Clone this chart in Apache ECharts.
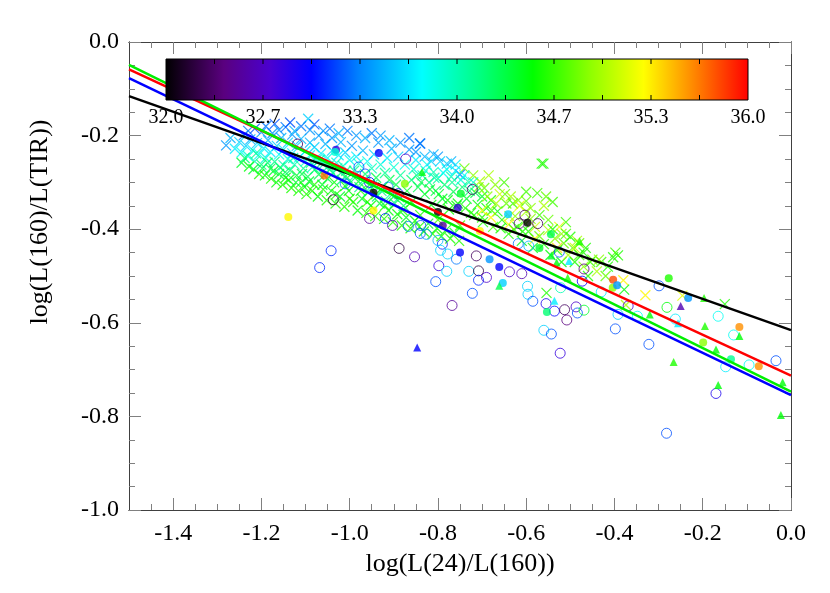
<!DOCTYPE html>
<html><head><meta charset="utf-8">
<script src="https://cdn.jsdelivr.net/npm/echarts@6/dist/echarts.min.js"></script>
<style>html,body{margin:0;padding:0;background:#fff}#c{width:830px;height:593px}</style>
</head><body><div id="c"></div>
<script>
// ---- axis ticks ----
const xTicks = [-1.4,-1.2,-1.0,-0.8,-0.6,-0.4,-0.2,0.0];
const xMinorTicks = [-1.45,-1.35,-1.3,-1.25,-1.15,-1.1,-1.05,-0.95,-0.9,-0.85,-0.75,-0.7,-0.65,-0.55,-0.5,-0.45,-0.35,-0.3,-0.25,-0.15,-0.1,-0.05];
const yTicks = [0.0,-0.2,-0.4,-0.6,-0.8,-1.0];
const yMinorTicks = [-0.05,-0.1,-0.15,-0.25,-0.3,-0.35,-0.45,-0.5,-0.55,-0.65,-0.7,-0.75,-0.85,-0.9,-0.95];
const colorbarLabels = ['32.0','32.7','33.3','34.0','34.7','35.3','36.0'];
const colorMin = 32, colorMax = 36;
const xTitle = 'log(L(24)/L(160))';
const yTitle = 'log(L(160)/L(TIR))';

// ---- data: [x, y, colour value] ----
const crosses = [
[-1.28,-0.221,33.4],[-1.27,-0.205,33.5],[-1.26,-0.228,33.7],[-1.25,-0.214,33.6],[-1.245,-0.236,33.8],[-1.24,-0.199,33.3],[-1.235,-0.222,33.6],[-1.23,-0.244,33.9],[-1.225,-0.208,33.5],[-1.22,-0.231,33.7],[-1.215,-0.255,34.0],[-1.21,-0.216,33.6],[-1.205,-0.240,33.8],[-1.20,-0.193,33.4],[-1.20,-0.262,34.2],[-1.195,-0.227,33.7],
[-1.19,-0.248,33.9],[-1.185,-0.210,33.5],[-1.18,-0.271,34.3],[-1.18,-0.235,33.7],[-1.175,-0.195,33.4],[-1.17,-0.256,34.1],[-1.165,-0.222,33.6],[-1.16,-0.282,34.4],[-1.16,-0.240,33.8],[-1.155,-0.205,33.5],[-1.15,-0.263,34.0],[-1.15,-0.230,33.7],[-1.145,-0.290,34.5],[-1.14,-0.215,33.6],[-1.14,-0.250,33.9],[-1.135,-0.274,34.2],[-1.13,-0.198,33.4],[-1.13,-0.238,33.7],[-1.125,-0.262,34.0],[-1.12,-0.285,34.4],[-1.12,-0.222,33.6],[-1.115,-0.247,33.8],[-1.11,-0.300,34.5],[-1.11,-0.207,33.5],[-1.105,-0.270,34.1],[-1.10,-0.233,33.7],[-1.10,-0.255,33.9],[-1.094,-0.164,33.6],[-1.095,-0.288,34.3],
[-1.09,-0.215,33.5],[-1.09,-0.242,33.8],[-1.085,-0.268,34.0],[-1.08,-0.305,34.6],[-1.08,-0.225,33.6],[-1.075,-0.252,33.9],[-1.07,-0.283,34.3],[-1.07,-0.200,33.4],[-1.065,-0.238,33.7],[-1.06,-0.262,34.0],[-1.06,-0.315,34.6],[-1.055,-0.218,33.5],[-1.05,-0.292,34.4],[-1.05,-0.248,33.8],[-1.045,-0.272,34.1],[-1.04,-0.205,33.4],[-1.04,-0.232,33.6],[-1.035,-0.300,34.5],[-1.03,-0.258,33.9],[-1.03,-0.325,34.6],[-1.025,-0.242,33.7],[-1.02,-0.280,34.2],[-1.02,-0.214,33.5],[-1.015,-0.265,34.0],[-1.01,-0.308,34.5],[-1.01,-0.236,33.6],[-1.005,-0.290,34.3],[-1.00,-0.252,33.8],[-1.00,-0.335,34.6],
[-0.995,-0.222,33.4],[-0.99,-0.275,34.1],[-0.985,-0.245,33.7],[-0.98,-0.298,34.4],[-0.98,-0.260,33.9],[-0.975,-0.318,34.6],[-0.97,-0.232,33.5],[-0.965,-0.282,34.2],[-0.96,-0.255,33.8],[-0.96,-0.342,34.7],[-0.955,-0.305,34.4],[-0.95,-0.270,34.0],[-0.945,-0.240,33.6],[-0.94,-0.290,34.3],[-0.94,-0.325,34.5],[-0.935,-0.215,33.4],[-0.93,-0.262,33.9],[-0.925,-0.310,34.4],[-0.92,-0.280,34.1],[-0.92,-0.350,34.6],[-0.915,-0.248,33.7],[-0.91,-0.295,34.3],[-0.905,-0.228,33.5],[-0.90,-0.268,33.9],[-0.90,-0.330,34.5],
[-0.895,-0.305,34.3],[-0.89,-0.245,33.6],[-0.885,-0.285,34.1],[-0.88,-0.360,34.6],[-0.875,-0.262,33.8],[-0.87,-0.318,34.4],[-0.865,-0.230,33.4],[-0.86,-0.295,34.2],[-0.86,-0.342,34.5],[-0.855,-0.272,33.9],[-0.85,-0.252,33.7],[-0.845,-0.310,34.3],[-0.84,-0.217,33.3],[-0.84,-0.370,34.6],[-0.835,-0.285,34.0],[-0.83,-0.325,34.4],[-0.825,-0.262,33.8],[-0.82,-0.300,34.2],[-0.815,-0.348,34.5],[-0.81,-0.240,33.5],[-0.81,-0.278,34.0],[-0.805,-0.318,34.3],[-0.80,-0.380,34.7],[-0.80,-0.292,34.1],
[-0.795,-0.255,33.6],[-0.79,-0.335,34.4],[-0.785,-0.305,34.2],[-0.78,-0.272,33.8],[-0.775,-0.358,34.6],[-0.77,-0.288,34.0],[-0.765,-0.320,34.3],[-0.76,-0.262,33.7],[-0.755,-0.345,34.5],[-0.75,-0.283,33.3],[-0.75,-0.392,34.7],[-0.745,-0.310,34.2],[-0.74,-0.270,34.8],[-0.735,-0.335,34.4],[-0.73,-0.300,34.0],[-0.725,-0.365,34.6],[-0.72,-0.285,34.9],[-0.715,-0.322,34.3],[-0.71,-0.348,34.5],[-0.705,-0.298,35.0],[-0.70,-0.375,34.6],[-0.70,-0.330,34.4],
[-0.695,-0.312,34.8],[-0.69,-0.355,34.5],[-0.685,-0.285,35.0],[-0.68,-0.338,34.6],[-0.675,-0.395,34.7],[-0.67,-0.305,34.9],[-0.665,-0.362,34.5],[-0.66,-0.325,35.1],[-0.655,-0.380,34.6],[-0.65,-0.300,34.7],[-0.645,-0.345,34.8],[-0.64,-0.410,34.6],[-0.635,-0.330,35.0],[-0.63,-0.345,34.7],[-0.625,-0.372,34.9],[-0.62,-0.395,34.6],[-0.615,-0.350,35.2],[-0.61,-0.425,34.5],[-0.605,-0.385,34.8],[-0.60,-0.320,34.7],[-0.60,-0.362,35.0],
[-0.68,-0.375,35.3],[-0.64,-0.390,35.3],[-0.70,-0.360,35.2],[-0.58,-0.420,35.3],[-0.53,-0.440,35.4],
[-0.595,-0.405,34.6],[-0.59,-0.378,34.9],[-0.585,-0.440,34.5],[-0.58,-0.395,35.1],[-0.575,-0.323,34.7],[-0.57,-0.415,34.8],[-0.565,-0.260,34.6],[-0.56,-0.432,34.6],[-0.555,-0.330,34.8],[-0.55,-0.402,35.0],[-0.545,-0.455,34.5],[-0.54,-0.342,34.7],[-0.535,-0.420,34.9],[-0.53,-0.445,34.6],[-0.525,-0.395,35.2],[-0.52,-0.470,34.5],[-0.515,-0.430,34.8],[-0.51,-0.410,34.7],[-0.505,-0.455,35.0],[-0.50,-0.416,34.6],
[-0.495,-0.440,34.8],[-0.49,-0.470,34.6],[-0.485,-0.425,35.0],[-0.48,-0.455,34.7],[-0.47,-0.480,34.9],[-0.465,-0.440,34.6],[-0.46,-0.500,34.6],[-0.45,-0.465,34.8],[-0.44,-0.490,35.0],[-0.43,-0.470,34.7],[-0.42,-0.500,34.8],[-0.403,-0.460,34.6],[-0.392,-0.456,34.6],[-0.398,-0.450,34.7],[-0.38,-0.509,35.3],[-0.378,-0.529,34.5],[-0.374,-0.562,35.0],[-0.33,-0.541,35.3],[-0.246,-0.542,35.2],[-0.15,-0.560,34.6],
[-0.841,-0.217,33.3],[-0.561,-0.260,34.6],[-0.554,-0.536,34.6],
[-1.245,-0.258,34.4],[-1.238,-0.248,34.2],[-1.228,-0.266,34.5],[-1.218,-0.272,34.4],[-1.212,-0.238,34.1],[-1.205,-0.282,34.6],[-1.198,-0.270,34.3],[-1.192,-0.285,34.5],[-1.186,-0.258,34.2],[-1.178,-0.292,34.6],[-1.172,-0.275,34.4],[-1.166,-0.300,34.5],[-1.158,-0.268,34.2],[-1.152,-0.305,34.6],[-1.146,-0.278,34.3],[-1.138,-0.295,34.5],[-1.132,-0.312,34.6],[-1.128,-0.248,34.0],[-1.122,-0.300,34.4],[-1.116,-0.318,34.6],[-1.108,-0.282,34.3],[-1.102,-0.310,34.5],[-1.098,-0.325,34.6],[-1.092,-0.298,34.4],
[-1.23,-0.190,33.3],[-1.215,-0.185,33.2],[-1.19,-0.180,33.3],[-1.17,-0.175,33.2],[-1.16,-0.188,33.4],[-1.145,-0.182,33.3],[-1.135,-0.172,33.2],[-1.125,-0.190,33.5],[-1.11,-0.180,33.3],[-1.09,-0.188,33.4],[-1.08,-0.176,33.2],[-1.06,-0.190,33.4],[-1.045,-0.185,33.3],[-1.025,-0.195,33.5],[-1.005,-0.190,33.3],[-0.985,-0.200,33.4],[-0.965,-0.205,33.5],[-0.95,-0.195,33.3],[-0.93,-0.200,33.4],[-0.91,-0.210,33.5],[-0.885,-0.215,33.4],[-0.865,-0.205,33.3],
[-1.088,-0.258,34.1],[-1.078,-0.272,34.2],[-1.068,-0.252,34.0],[-1.058,-0.285,34.2],[-1.048,-0.265,34.1],[-1.038,-0.280,34.2],[-1.028,-0.270,34.0],[-1.018,-0.295,34.2],[-1.008,-0.275,34.1],[-0.998,-0.300,34.2],[-0.988,-0.285,34.0],[-0.978,-0.310,34.2],[-0.968,-0.295,34.1],[-0.958,-0.320,34.2],[-0.948,-0.305,34.0],[-0.938,-0.330,34.2],[-0.928,-0.318,34.1],[-0.918,-0.340,34.2],[-0.908,-0.325,34.0],[-0.898,-0.345,34.2],[-0.888,-0.332,34.1],[-0.878,-0.350,34.2],
[-1.085,-0.318,34.6],[-1.072,-0.330,34.5],[-1.062,-0.305,34.4],[-1.052,-0.338,34.6],[-1.042,-0.318,34.5],[-1.032,-0.345,34.6],[-1.022,-0.330,34.4],[-1.012,-0.352,34.6],[-1.002,-0.318,34.5],[-0.992,-0.342,34.6],[-0.982,-0.360,34.5],[-0.972,-0.335,34.4],[-0.962,-0.365,34.6],[-0.952,-0.350,34.5],[-0.942,-0.372,34.6],[-0.932,-0.345,34.4],[-0.922,-0.378,34.6],[-0.912,-0.360,34.5],[-0.902,-0.385,34.6],[-0.892,-0.368,34.5],[-0.882,-0.392,34.6],[-0.872,-0.375,34.4],[-0.862,-0.398,34.6],[-0.852,-0.382,34.5],[-0.842,-0.395,34.6],[-0.832,-0.405,34.5],[-0.822,-0.388,34.4],[-0.812,-0.410,34.6],[-0.802,-0.398,34.5],[-0.792,-0.415,34.6],[-0.782,-0.402,34.5],[-0.772,-0.420,34.6],[-0.762,-0.408,34.4],[-0.752,-0.425,34.6],
[-0.848,-0.285,34.1],[-0.838,-0.300,34.3],[-0.828,-0.275,33.9],[-0.818,-0.315,34.4],[-0.808,-0.290,34.0],[-0.798,-0.325,34.4],[-0.788,-0.280,33.8],[-0.778,-0.338,34.5],[-0.768,-0.300,34.1],[-0.758,-0.350,34.5],[-0.748,-0.295,33.9],[-0.738,-0.355,34.6],[-0.728,-0.318,34.2],[-0.718,-0.370,34.6],[-0.708,-0.310,34.8],[-0.698,-0.385,34.6],[-0.688,-0.330,34.9],[-0.678,-0.360,34.7],[-0.668,-0.345,35.0],[-0.658,-0.398,34.6],[-0.648,-0.325,34.8],[-0.638,-0.372,35.1],[-0.628,-0.400,34.7],[-0.618,-0.338,34.9],[-0.608,-0.405,34.6],
[-0.85,-0.235,33.4],[-0.83,-0.245,33.5],[-0.815,-0.255,33.6],[-0.80,-0.245,33.4],[-0.78,-0.260,33.6],[-0.77,-0.255,33.5],[-0.76,-0.275,33.7],[-0.74,-0.285,33.8],[-0.72,-0.300,33.9],
[-0.60,-0.340,34.8],[-0.59,-0.355,34.9],[-0.57,-0.370,34.7],[-0.56,-0.350,35.0],[-0.55,-0.380,34.8],[-0.54,-0.400,34.6],[-0.52,-0.410,34.9],[-0.51,-0.385,34.7],[-0.49,-0.440,35.1],[-0.48,-0.430,34.8],[-0.47,-0.450,34.6],[-0.455,-0.470,34.7],[-0.435,-0.465,34.9],[-0.415,-0.480,34.6]
];
const openCircles = [
[-1.042,-0.446,33.1],[-1.068,-0.482,33.1],[-0.955,-0.377,32.5],[-0.919,-0.377,33.1],[-0.903,-0.392,32.6],[-0.888,-0.441,32.2],[-0.853,-0.459,32.6],[-0.798,-0.478,32.8],[-0.780,-0.490,33.6],[-0.805,-0.512,33.2],[-0.768,-0.563,32.5],[-0.778,-0.453,33.6],[-0.758,-0.464,33.3],[-0.730,-0.490,33.6],[-0.708,-0.489,32.2],[-0.708,-0.509,33.1],[-0.690,-0.503,32.7],[-0.722,-0.537,33.2],[-0.713,-0.457,32.3],[-0.790,-0.432,33.1],
[-0.596,-0.539,33.6],[-0.585,-0.554,33.2],[-0.555,-0.559,32.9],[-0.536,-0.575,33.0],[-0.513,-0.572,32.3],[-0.508,-0.594,32.4],[-0.487,-0.566,32.7],[-0.484,-0.579,33.2],[-0.469,-0.573,34.4],[-0.560,-0.616,33.6],[-0.543,-0.624,33.2],[-0.523,-0.665,32.8],[-0.398,-0.613,33.2],[-0.369,-0.564,32.7],[-0.392,-0.582,33.6],
[-0.603,-0.370,32.3],[-0.616,-0.388,32.4],[-0.574,-0.388,32.3],[-0.522,-0.525,34.0],[-0.597,-0.522,33.6],[-0.469,-0.485,32.4],[-0.473,-0.511,33.0],[-0.430,-0.534,33.7],[-0.348,-0.586,33.8],[-0.322,-0.646,33.2],[-0.299,-0.521,33.2],[-0.281,-0.567,34.5],[-0.262,-0.592,33.7],[-0.165,-0.586,33.8],[-0.148,-0.694,33.7],[-0.170,-0.751,32.9],[-0.130,-0.626,33.8],[-0.095,-0.690,33.8],[-0.034,-0.681,33.2],[-0.282,-0.836,33.2],
[-0.722,-0.315,32.3],[-0.618,-0.431,33.3],[-0.594,-0.436,33.5],[-0.610,-0.495,32.6],[-0.638,-0.491,32.7],[-0.525,-0.449,33.2],[-0.873,-0.250,32.7],[-0.800,-0.424,33.5],[-0.840,-0.409,33.2],[-0.867,-0.394,33.3],[-0.979,-0.267,33.2],[-1.118,-0.218,32.3],[-1.037,-0.337,32.2],[-1.010,-0.303,33.3],
[-0.839,-0.392,33.2],[-0.826,-0.411,33.4],[-0.794,-0.445,33.6],[-0.913,-0.310,33.3],[-0.890,-0.324,33.0],[-0.965,-0.282,33.2],[-0.955,-0.300,33.0]
];
const filledCircles = [
[-0.750,-0.450,33.0],[-0.661,-0.481,33.0],[-0.683,-0.464,33.4],[-0.653,-0.515,33.6],[-0.641,-0.368,33.6],[-0.597,-0.386,32.0],[-0.544,-0.411,34.3],[-0.570,-0.440,34.4],[-0.553,-0.577,34.2],[-0.403,-0.508,35.8],[-0.404,-0.525,34.9],[-0.394,-0.520,33.4],[-0.277,-0.505,34.6],[-0.233,-0.547,33.4],[-0.199,-0.642,34.9],[-0.136,-0.678,34.1],[-0.117,-0.609,35.6],[-0.073,-0.693,35.6],
[-0.934,-0.237,33.0],[-0.875,-0.303,34.9],[-0.946,-0.322,32.0],[-0.748,-0.324,34.4],[-0.755,-0.354,32.8],[-0.800,-0.363,32.0],[-0.946,-0.360,35.3],[-0.789,-0.392,32.5],[-0.705,-0.404,35.3],[-1.031,-0.230,32.8],[-1.033,-0.235,33.9],[-1.057,-0.285,35.7],[-1.139,-0.374,35.3]
];
const triangles = [
[-0.847,-0.653,33.0],[-0.536,-0.553,33.7],[-0.661,-0.521,34.3],[-0.479,-0.426,34.6],[-0.543,-0.456,34.4],[-0.531,-0.471,34.5],[-0.503,-0.468,33.7],[-0.506,-0.504,34.6],[-0.320,-0.582,34.5],[-0.266,-0.684,34.6],[-0.256,-0.601,33.7],[-0.250,-0.564,32.6],[-0.197,-0.547,34.6],[-0.195,-0.607,34.6],[-0.170,-0.657,34.5],[-0.165,-0.733,34.5],[-0.117,-0.628,34.5],[-0.019,-0.727,34.5],[-0.023,-0.797,34.5],[-0.836,-0.278,34.5]
];
// fitted lines: [x, y] end points
const fitBlack = [[-1.5,-0.1155],[0.0,-0.6157]];
const fitBlue  = [[-1.5,-0.0770],[0.0,-0.7545]];
const fitRed   = [[-1.5,-0.0585],[0.0,-0.7130]];
const fitGreen = [[-1.5,-0.0490],[0.0,-0.7470]];

// ---- colour table ----
const cmapStops = [
  [0.00,'#000000'],[0.10,'#5a007f'],[0.18,'#4a00d0'],[0.25,'#0000ff'],[0.33,'#0080ff'],
  [0.44,'#00ffff'],[0.54,'#00ff80'],[0.63,'#00ff00'],[0.73,'#90ff00'],[0.82,'#ffff00'],
  [0.90,'#ff9000'],[1.00,'#ff0000']
];
function hex2rgb(h){return [parseInt(h.slice(1,3),16),parseInt(h.slice(3,5),16),parseInt(h.slice(5,7),16)];}
function cmap(v){
  let t=(v-colorMin)/(colorMax-colorMin); t=Math.max(0,Math.min(1,t));
  for(let i=1;i<cmapStops.length;i++){
    if(t<=cmapStops[i][0]){
      const a=cmapStops[i-1], b=cmapStops[i];
      const f=(t-a[0])/(b[0]-a[0]);
      const ca=hex2rgb(a[1]), cb=hex2rgb(b[1]);
      return 'rgb('+ca.map((c,k)=>Math.round(c+(cb[k]-c)*f)).join(',')+')';
    }
  }
  return cmapStops[cmapStops.length-1][1];
}

const chart = echarts.init(document.getElementById('c'), null, {renderer:'canvas'});
const FONT = '"Liberation Serif","Times New Roman",serif';

function hollow(arr,w){return arr.map(p=>({value:[p[0],p[1]],itemStyle:{color:'none',borderColor:cmap(p[2]),borderWidth:w}}));}
function solid(arr){return arr.map(p=>({value:[p[0],p[1]],itemStyle:{color:cmap(p[2])}}));}
function lineSeries(d,color){return {type:'line',data:d,symbol:'none',silent:true,lineStyle:{color:color,width:2.5},z:5};}

// colour bar geometry
const cb = {x:166, y:59, w:582, h:41};
const graphics = [];
graphics.push({type:'rect', z:100, shape:{x:cb.x,y:cb.y,width:cb.w,height:cb.h},
  style:{fill:new echarts.graphic.LinearGradient(0,0,1,0,cmapStops.map(s=>({offset:s[0],color:s[1]}))),stroke:'#000',lineWidth:1}});
for(let i=1;i<12;i++){
  const x=cb.x+cb.w*i/12;
  graphics.push({type:'line',z:101,shape:{x1:x,y1:cb.y,x2:x,y2:cb.y+5},style:{stroke:'#000',lineWidth:1}});
  graphics.push({type:'line',z:101,shape:{x1:x,y1:cb.y+cb.h,x2:x,y2:cb.y+cb.h-5},style:{stroke:'#000',lineWidth:1}});
}
colorbarLabels.forEach((t,i)=>{
  graphics.push({type:'text',z:101,x:cb.x+cb.w*i/6,y:cb.y+cb.h+18,
    style:{text:t,font:'20px '+FONT,fill:'#000',align:'center',verticalAlign:'middle'}});
});
graphics.push({type:'text',z:101,x:40,y:222,rotation:Math.PI/2,
  style:{text:yTitle,font:'26px '+FONT,fill:'#000',align:'center',verticalAlign:'middle'}});

const axisLineStyle = {color:'#404040',width:1};
const tickStyle = {color:'#808080',width:1};
function xAx(pos, major, labels){
  return {type:'value',min:-1.5,max:0,position:pos,gridIndex:0,
    axisLine:{show:true,onZero:false,lineStyle:axisLineStyle},
    splitLine:{show:false},
    axisTick:{show:true,inside:true,length:major?12:6,customValues:major?xTicks:xMinorTicks,lineStyle:tickStyle},
    axisLabel:{show:labels,customValues:xTicks,formatter:v=>v.toFixed(1),fontFamily:FONT,fontSize:24,color:'#000',margin:12},
    name:labels?xTitle:'',nameLocation:'middle',nameGap:40,nameTextStyle:{fontFamily:FONT,fontSize:26,color:'#000'}};
}
function yAx(pos, major, labels){
  return {type:'value',min:-1,max:0,position:pos,gridIndex:0,
    axisLine:{show:true,onZero:false,lineStyle:axisLineStyle},
    splitLine:{show:false},
    axisTick:{show:true,inside:true,length:major?12:6,customValues:major?yTicks:yMinorTicks,lineStyle:tickStyle},
    axisLabel:{show:labels,customValues:yTicks,formatter:v=>v.toFixed(1),fontFamily:FONT,fontSize:24,color:'#000',margin:10}};
}

chart.setOption({
  animation:false,
  backgroundColor:'#fff',
  grid:{left:129,right:39,top:42,bottom:83,containLabel:false},
  xAxis:[xAx('bottom',true,true),xAx('bottom',false,false),xAx('top',true,false),xAx('top',false,false)],
  yAxis:[yAx('left',true,true),yAx('left',false,false),yAx('right',true,false),yAx('right',false,false)],
  series:[
    {type:'scatter',data:hollow(crosses,1.25),symbol:'path://M0,0L10,10M10,0L0,10',symbolSize:10,silent:true,z:1},
    {type:'scatter',data:hollow(openCircles,1),symbol:'circle',symbolSize:10,silent:true,z:2},
    {type:'scatter',data:solid(filledCircles),symbol:'circle',symbolSize:8,silent:true,z:3},
    {type:'scatter',data:solid(triangles),symbol:'triangle',symbolSize:8,silent:true,z:3},
    lineSeries(fitBlack,'#000000'),
    lineSeries(fitBlue,'#0000ff'),
    lineSeries(fitRed,'#ff0000'),
    lineSeries(fitGreen,'#00ee00')
  ],
  graphic:graphics
});
</script></body></html>
